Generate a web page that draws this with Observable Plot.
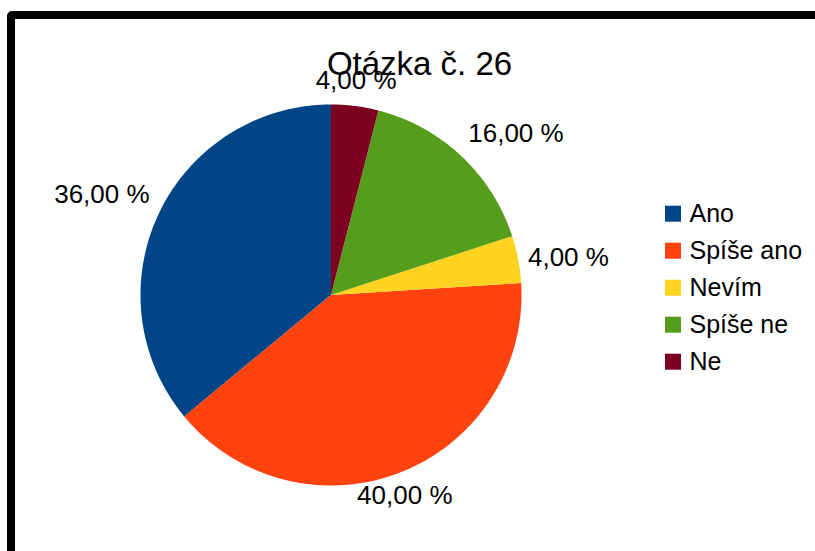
<!DOCTYPE html>
<html>
<head>
<meta charset="utf-8">
<script src="https://cdn.jsdelivr.net/npm/d3@7"></script>
<script src="https://cdn.jsdelivr.net/npm/@observablehq/plot@0.6"></script>
<style>
  html, body { margin: 0; padding: 0; background: #fff; }
  #wrap { position: relative; width: 815px; height: 551px; overflow: hidden; background: #fff; }
  #wrap svg { position: absolute; left: 0; top: 0; }
  #border { position: absolute; left: 7px; top: 11px; width: 900px; height: 700px;
            border: 8px solid #000; border-radius: 5px; box-sizing: border-box; pointer-events: none; }
</style>
</head>
<body>
<div id="wrap"><div id="border"></div></div>
<script>
const title = "Otázka č. 26";
const categories = ["Ano", "Spíše ano", "Nevím", "Spíše ne", "Ne"];
const values = [36, 40, 4, 16, 4];
const colors = ["#004586", "#ff420e", "#ffd320", "#579d1c", "#7e0021"];

// layout
const W = 815, H = 551;
const cx = 330.5, cy = 294.5, R = 190.5;
const font = "Liberation Sans, Arial, sans-serif";

const total = d3.sum(values);
const fmt = v => (v / total * 100).toFixed(2).replace(".", ",") + " %";

// angles measured counter-clockwise from 12 o'clock
let acc = 0;
const slices = categories.map((c, i) => {
  const a0 = acc / total * 2 * Math.PI;
  acc += values[i];
  const a1 = acc / total * 2 * Math.PI;
  return {cat: c, value: values[i], color: colors[i], a0, a1, mid: (a0 + a1) / 2};
});
const pt = (a, r) => [cx - r * Math.sin(a), cy - r * Math.cos(a)];

const polys = [];
for (const s of slices) {
  polys.push({cat: s.cat, x: cx, y: cy});
  const n = Math.max(2, Math.ceil((s.a1 - s.a0) / (Math.PI / 360)));
  for (let k = 0; k <= n; k++) {
    const [x, y] = pt(s.a0 + (s.a1 - s.a0) * k / n, R);
    polys.push({cat: s.cat, x, y});
  }
  polys.push({cat: s.cat, x: cx, y: cy});
}

const labels = slices.map(s => {
  const ux = -Math.sin(s.mid), uyUp = Math.cos(s.mid);
  const [ax, ay] = pt(s.mid, R + 10);
  const h = ux > 0.45 ? "start" : ux < -0.45 ? "end" : "middle";
  const y = uyUp > 0.3 ? ay - 15 : uyUp < -0.3 ? ay + 14 : ay;
  return {text: fmt(s.value), x: ax, y, h};
});

const legendRows = categories.map((c, i) => ({cat: c, color: colors[i], yc: 213.7 + 37 * i}));

const textMark = anchor => Plot.text(labels.filter(d => d.h === anchor), {
  x: "x", y: "y", text: "text", textAnchor: anchor, lineAnchor: "middle",
  fontSize: 26, fill: "#000"
});

const chart = Plot.plot({
  width: W, height: H,
  margin: 0,
  x: {domain: [0, W], range: [0, W], axis: null},
  y: {domain: [0, H], range: [0, H], axis: null},
  color: {domain: categories, range: colors},
  style: {fontFamily: font, background: "transparent", overflow: "visible"},
  marks: [
    Plot.line(polys, {x: "x", y: "y", z: "cat", fill: d => d.cat, stroke: null, curve: "linear"}),
    Plot.text([title], {x: () => 419, y: () => 64, text: d => d, fontSize: 33, fill: "#000", lineAnchor: "middle"}),
    textMark("start"), textMark("end"), textMark("middle"),
    Plot.rect(legendRows, {x1: () => 665, x2: () => 681, y1: d => d.yc - 8, y2: d => d.yc + 8, fill: "cat"}),
    Plot.text(legendRows, {x: () => 689, y: "yc", text: "cat", textAnchor: "start", lineAnchor: "middle", fontSize: 25, fill: "#000"})
  ]
});
document.getElementById("wrap").insertBefore(chart, document.getElementById("border"));
</script>
</body>
</html>
